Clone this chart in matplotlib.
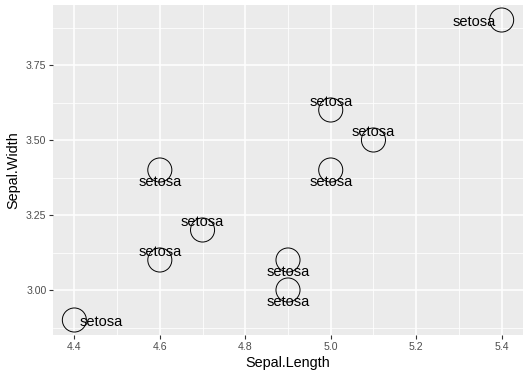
import matplotlib.pyplot as plt
import numpy as np
from matplotlib.ticker import MultipleLocator

plt.rcParams["font.family"] = ["Liberation Sans", "DejaVu Sans"]

# first ten rows of iris
sepal_length = [5.1, 4.9, 4.7, 4.6, 5.0, 5.4, 4.6, 5.0, 4.4, 4.9]
sepal_width = [3.5, 3.0, 3.2, 3.1, 3.6, 3.9, 3.4, 3.4, 2.9, 3.1]
species = ["setosa"] * 10
# where the repelled label sits relative to its point
label_side = ["up", "down", "up", "up", "up", "left", "down", "down", "right", "down"]

x_ticks = [4.4, 4.6, 4.8, 5.0, 5.2, 5.4]
y_ticks = [3.00, 3.25, 3.50, 3.75]

offsets = {"up": (0, 5.5), "down": (0, -9), "left": (-19.5, -1.5), "right": (19.5, -1.5)}

fig = plt.figure(figsize=(5.29, 3.75), dpi=100)
ax = fig.add_axes([53 / 529, 40 / 375, 470 / 529, 330 / 375])
ax.set_facecolor("#EBEBEB")
for side in ax.spines.values():
    side.set_visible(False)

ax.set_xlim(4.35, 5.45)
ax.set_ylim(2.85, 3.95)
ax.set_xticks(x_ticks)
ax.set_yticks(y_ticks)
ax.set_xticklabels([f"{v:.1f}" for v in x_ticks])
ax.set_yticklabels([f"{v:.2f}" for v in y_ticks])
ax.xaxis.set_minor_locator(MultipleLocator(0.1))
ax.yaxis.set_minor_locator(MultipleLocator(0.125))
ax.set_axisbelow(True)
ax.grid(which="major", color="white", linewidth=1.1)
ax.grid(which="minor", color="white", linewidth=0.55)
ax.tick_params(which="major", length=2.8, width=0.8, color="#333333",
               labelcolor="#4D4D4D", labelsize=7.6, pad=2)
ax.tick_params(which="minor", length=0)

ax.scatter(sepal_length, sepal_width, s=300, facecolors="none",
           edgecolors="black", linewidths=0.7, zorder=3)

for x, y, name, side in zip(sepal_length, sepal_width, species, label_side):
    ax.annotate(name, (x, y), xytext=offsets[side], textcoords="offset points",
                ha="center", va="center", fontsize=10.5, color="black", zorder=4)

ax.set_xlabel("Sepal.Length", fontsize=10.4, labelpad=3)
ax.set_ylabel("Sepal.Width", fontsize=10.4, labelpad=4)

fig.savefig("out.png", dpi=100, facecolor="white")
